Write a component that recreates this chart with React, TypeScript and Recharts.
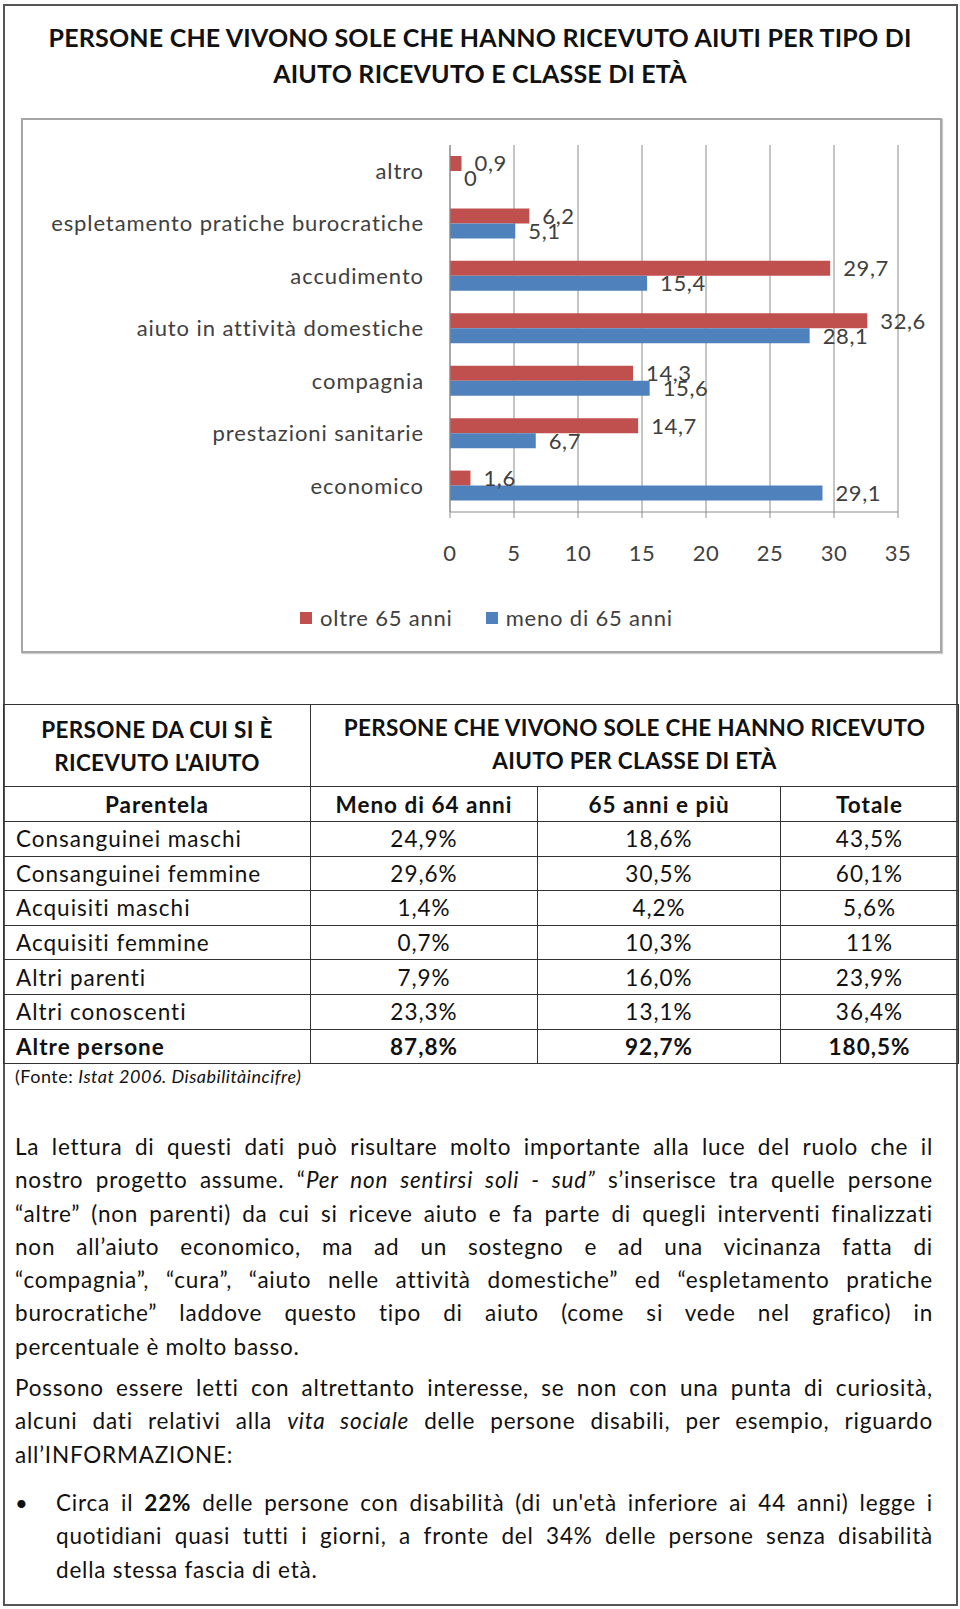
import React from 'react';
import { BarChart, Bar, XAxis, YAxis, CartesianGrid, LabelList, Rectangle } from 'recharts';

const categories = [
  'altro',
  'espletamento pratiche burocratiche',
  'accudimento',
  'aiuto in attività domestiche',
  'compagnia',
  'prestazioni sanitarie',
  'economico',
];
const oltre65 = [0.9, 6.2, 29.7, 32.6, 14.3, 14.7, 1.6];
const meno65 = [0, 5.1, 15.4, 28.1, 15.6, 6.7, 29.1];
const xTicks = [0, 5, 10, 15, 20, 25, 30, 35];

const parentela = [
  'Consanguinei maschi',
  'Consanguinei femmine',
  'Acquisiti maschi',
  'Acquisiti femmine',
  'Altri parenti',
  'Altri conoscenti',
  'Altre persone',
];
const menoDi64 = ['24,9%', '29,6%', '1,4%', '0,7%', '7,9%', '23,3%', '87,8%'];
const anni65 = ['18,6%', '30,5%', '4,2%', '10,3%', '16,0%', '13,1%', '92,7%'];
const totale = ['43,5%', '60,1%', '5,6%', '11%', '23,9%', '36,4%', '180,5%'];

const RED = '#C0504D';
const BLUE = '#4F81BD';
const FONT = 'Lato, "Open Sans", sans-serif';

const chartData = categories.map((name, i) => ({ name, oltre: oltre65[i], meno: meno65[i] }));
const fmt = (v: any) => String(v).replace('.', ',');

// value labels, drawn to the right of each bar end
const valueLabel = (props: any) => {
  const vb = props.viewBox || props;
  return (
    <text
      x={vb.x + vb.width + 13}
      y={vb.y + vb.height / 2}
      dy="0.36em"
      fill="#404040"
      fontSize={22}
      fontFamily={FONT}
      letterSpacing={0.6}
    >
      {fmt(props.value)}
    </text>
  );
};

// a zero bar keeps its label but draws nothing
const barShape = (props: any) => (props.width > 1.5 ? <Rectangle {...props} /> : <g />);

const cell: React.CSSProperties = { border: '1.5px solid #333', padding: 0, verticalAlign: 'middle' };
const head: React.CSSProperties = { ...cell, textAlign: 'center', fontWeight: 700, letterSpacing: 1 };

const Line = ({ children, last }: { children: React.ReactNode; last?: boolean }) => (
  <div style={{ height: 33.3, lineHeight: '33.3px', textAlign: 'justify', textAlignLast: last ? 'left' : 'justify', whiteSpace: 'nowrap' as any }}>
    {children}
  </div>
);

export default function App() {
  return (
    <div style={{ position: 'relative', width: 960, height: 1609, background: '#fff', fontFamily: FONT, color: '#111' }}>
      <style>{'body{margin:0}'}</style>
      <div style={{ position: 'absolute', left: 3, top: 4, width: 955, height: 1602, border: '2px solid #555', boxSizing: 'border-box' }} />

      <div style={{ position: 'absolute', left: 0, top: 19, width: 960, textAlign: 'center', fontWeight: 700, fontSize: 25, letterSpacing: 0.2, lineHeight: '36px' }}>
        PERSONE CHE VIVONO SOLE CHE HANNO RICEVUTO AIUTI PER TIPO DI<br />AIUTO RICEVUTO E CLASSE DI ETÀ
      </div>

      <div style={{ position: 'absolute', left: 21, top: 118, width: 921, height: 535, border: '2px solid #a6a6a6', boxSizing: 'border-box', boxShadow: '1px 1px 1px #ccc' }}>
        <BarChart
          width={917}
          height={531}
          data={chartData}
          layout="vertical"
          barCategoryGap="21%"
          barGap={0}
          margin={{ top: 25, right: 42, bottom: 79, left: 0 }}
        >
          <CartesianGrid horizontal={false} stroke="#8c8c8c" />
          <XAxis
            type="number"
            domain={[0, 35]}
            ticks={xTicks}
            interval={0}
            height={60}
            stroke="#8c8c8c"
            tickSize={6}
            tickMargin={27}
            tick={{ fill: '#404040', fontSize: 22, fontFamily: FONT, letterSpacing: 0.5 }}
          />
          <YAxis
            type="category"
            dataKey="name"
            width={427}
            stroke="#8c8c8c"
            tickLine={false}
            tickSize={0}
            tickMargin={26}
            interval={0}
            tick={{ fill: '#404040', fontSize: 22, fontFamily: FONT, letterSpacing: 0.9 }}
          />
          <Bar dataKey="oltre" fill={RED} isAnimationActive={false}>
            <LabelList dataKey="oltre" content={valueLabel} />
          </Bar>
          <Bar dataKey="meno" fill={BLUE} minPointSize={1} shape={barShape} isAnimationActive={false}>
            <LabelList dataKey="meno" content={valueLabel} />
          </Bar>
        </BarChart>
        <div style={{ position: 'absolute', top: 485, left: 277, display: 'flex', alignItems: 'center', fontSize: 22, letterSpacing: 0.8, color: '#404040', lineHeight: '26px' }}>
          <span style={{ width: 12, height: 12, background: RED, display: 'inline-block', marginRight: 8 }} />
          <span>oltre 65 anni</span>
          <span style={{ width: 12, height: 12, background: BLUE, display: 'inline-block', marginLeft: 33, marginRight: 8 }} />
          <span>meno di 65 anni</span>
        </div>
      </div>

      <table style={{ position: 'absolute', left: 3, top: 704, width: 955, borderCollapse: 'collapse', fontSize: 22.5, tableLayout: 'fixed' }}>
        <colgroup>
          <col style={{ width: 307 }} />
          <col style={{ width: 227 }} />
          <col style={{ width: 243 }} />
          <col style={{ width: 178 }} />
        </colgroup>
        <tbody>
          <tr style={{ height: 82 }}>
            <td style={{ ...head, letterSpacing: 0.3, lineHeight: '33px' }}>PERSONE DA CUI SI È<br />RICEVUTO L'AIUTO</td>
            <td colSpan={3} style={{ ...head, letterSpacing: 0.3, lineHeight: '33px', verticalAlign: 'top', paddingTop: 6 }}>
              PERSONE CHE VIVONO SOLE CHE HANNO RICEVUTO<br />AIUTO PER CLASSE DI ETÀ
            </td>
          </tr>
          <tr style={{ height: 35 }}>
            <td style={head}>Parentela</td>
            <td style={head}>Meno di 64 anni</td>
            <td style={head}>65 anni e più</td>
            <td style={head}>Totale</td>
          </tr>
          {parentela.map((p, i) => {
            const bold = i === parentela.length - 1 ? 700 : 400;
            const c = { ...cell, fontWeight: bold, letterSpacing: 1 };
            return (
              <tr key={p} style={{ height: 34.6 }}>
                <td style={{ ...c, paddingLeft: 12 }}>{p}</td>
                <td style={{ ...c, textAlign: 'center' }}>{menoDi64[i]}</td>
                <td style={{ ...c, textAlign: 'center' }}>{anni65[i]}</td>
                <td style={{ ...c, textAlign: 'center' }}>{totale[i]}</td>
              </tr>
            );
          })}
        </tbody>
      </table>

      <div style={{ position: 'absolute', left: 15, top: 1065, fontSize: 18, letterSpacing: 0.5 }}>
        (Fonte: <i>Istat 2006. Disabilitàincifre)</i>
      </div>

      <div style={{ position: 'absolute', left: 15, top: 1130, width: 918, fontSize: 22.5, letterSpacing: 0.8 }}>
        <Line>La lettura di questi dati può risultare molto importante alla luce del ruolo che il</Line>
        <Line>nostro progetto assume. “<i>Per non sentirsi soli - sud”</i> s’inserisce tra quelle persone</Line>
        <Line>“altre” (non parenti) da cui si riceve aiuto e fa parte di quegli interventi finalizzati</Line>
        <Line>non all’aiuto economico, ma ad un sostegno e ad una vicinanza fatta di</Line>
        <Line>“compagnia”, “cura”, “aiuto nelle attività domestiche” ed “espletamento pratiche</Line>
        <Line>burocratiche” laddove questo tipo di aiuto (come si vede nel grafico) in</Line>
        <Line last>percentuale è molto basso.</Line>
      </div>

      <div style={{ position: 'absolute', left: 15, top: 1371, width: 918, fontSize: 22.5, letterSpacing: 0.8 }}>
        <Line>Possono essere letti con altrettanto interesse, se non con una punta di curiosità,</Line>
        <Line>alcuni dati relativi alla <i>vita sociale</i> delle persone disabili, per esempio, riguardo</Line>
        <Line last>all’INFORMAZIONE:</Line>
      </div>

      <div style={{ position: 'absolute', left: 15, top: 1486, fontSize: 22, lineHeight: '33.3px' }}>•</div>
      <div style={{ position: 'absolute', left: 56, top: 1486, width: 877, fontSize: 22.5, letterSpacing: 0.8 }}>
        <Line>Circa il <b>22%</b> delle persone con disabilità (di un'età inferiore ai 44 anni) legge i</Line>
        <Line>quotidiani quasi tutti i giorni, a fronte del 34% delle persone senza disabilità</Line>
        <Line last>della stessa fascia di età.</Line>
      </div>
    </div>
  );
}
